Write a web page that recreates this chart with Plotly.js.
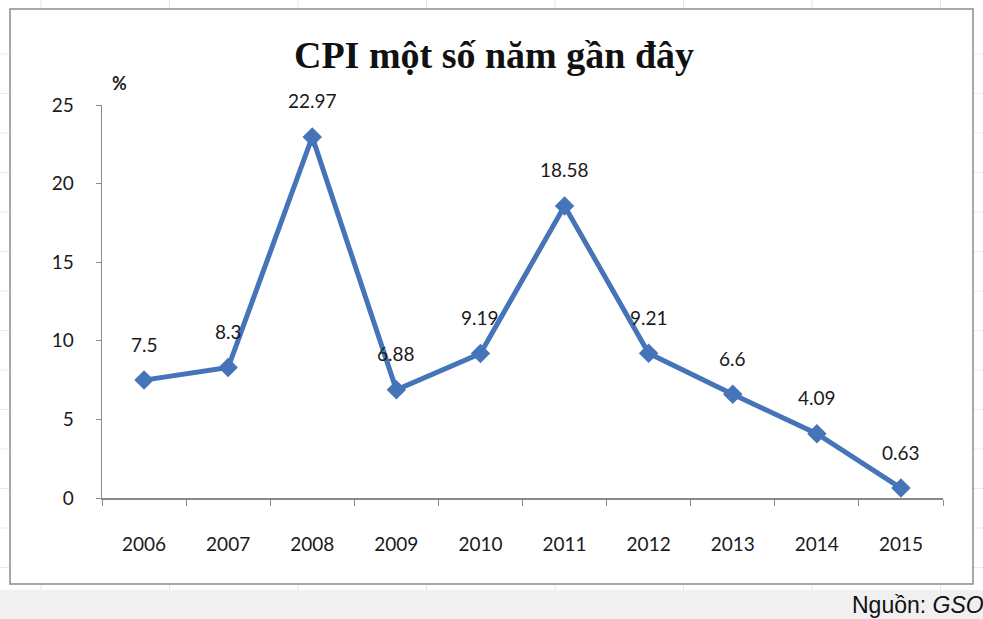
<!DOCTYPE html>
<html>
<head>
<meta charset="utf-8">
<script src="https://cdn.plot.ly/plotly-3.0.1.min.js"></script>
<style>html,body{margin:0;padding:0;background:#fff;}#chart{width:983px;height:619px;}</style>
</head>
<body>
<div id="chart"></div>
<script>
// Data
var years = ["2006","2007","2008","2009","2010","2011","2012","2013","2014","2015"];
var cpi = [7.5, 8.3, 22.97, 6.88, 9.19, 18.58, 9.21, 6.6, 4.09, 0.63];
var cpiLabels = ["7.5","8.3","22.97","6.88","9.19","18.58","9.21","6.6","4.09","0.63"];
var yTicks = [0, 5, 10, 15, 20, 25];

// Layout geometry (pixels)
var W = 983, H = 619;
var L = 102, R = 40, T = 105, B = 121;
var pw = W - L - R, ph = H - T - B;
function px(x){ return (x - L) / pw; }
function py(y){ return (H - B - y) / ph; }

var shapes = [];
// faint spreadsheet gridlines in the background
for (var gx = 41; gx < W; gx += 128.5) {
  shapes.push({type:'line', xref:'paper', yref:'paper', x0:px(gx), x1:px(gx), y0:py(0), y1:py(590), line:{color:'#e6e6e6', width:1}, layer:'below'});
}
for (var gy = 54; gy < 590; gy += 39.5) {
  shapes.push({type:'line', xref:'paper', yref:'paper', x0:px(0), x1:px(W), y0:py(gy), y1:py(gy), line:{color:'#ebebeb', width:1}, layer:'below'});
}
// chart box
shapes.push({type:'rect', xref:'paper', yref:'paper', x0:px(10), x1:px(973), y0:py(584), y1:py(9), line:{color:'#8c8c8c', width:1.5}, fillcolor:'#ffffff', layer:'below'});
// grey source strip
shapes.push({type:'rect', xref:'paper', yref:'paper', x0:px(0), x1:px(W), y0:py(H+2), y1:py(590), line:{width:0}, fillcolor:'#f0f0f0', layer:'below'});

var annotations = [];
for (var i = 0; i < years.length; i++) {
  annotations.push({x: i, y: cpi[i], xref:'x', yref:'y', text: cpiLabels[i], showarrow:false,
    yshift: 36, font:{family:'Lato, sans-serif', size:19, color:'#1a1a1a'}});
}
annotations.push({xref:'paper', yref:'paper', x:px(110), y:py(70), text:'<b>%</b>', showarrow:false,
  font:{family:'Lato, sans-serif', size:18, color:'#222'}});
annotations.push({xref:'paper', yref:'paper', x:px(986), y:py(605), xanchor:'right', yanchor:'middle',
  text:'Nguồn: <i>GSO</i>', showarrow:false, font:{family:'Liberation Sans, Arial, sans-serif', size:23, color:'#111'}});

var trace = {
  x: years, y: cpi, type:'scatter', mode:'lines+markers',
  line:{color:'#4674b9', width:5},
  marker:{symbol:'diamond', size:15, color:'#4674b9'},
  hoverinfo:'x+y'
};

var layout = {
  width: W, height: H,
  margin:{l:L, r:R, t:T, b:B, pad:0},
  paper_bgcolor:'rgba(0,0,0,0)', plot_bgcolor:'rgba(0,0,0,0)',
  showlegend:false,
  title:{text:'<b>CPI một số năm gần đây</b>', xref:'container', x:494/W, xanchor:'center', yref:'container', y:1 - 55/H, yanchor:'middle',
    font:{family:'Liberation Serif, serif', size:38, color:'#111'}},
  xaxis:{type:'category', range:[-0.5, 9.5], showline:true, linecolor:'#8a8a8a', linewidth:1.5,
    ticks:'outside', tickson:'boundaries', ticklen:6, tickcolor:'#8a8a8a', tickwidth:1,
    showgrid:false, zeroline:false, ticklabelstandoff:29,
    tickfont:{family:'Lato, sans-serif', size:19, color:'#1a1a1a'}},
  yaxis:{range:[0, 25], tickvals:yTicks, showline:true, linecolor:'#8a8a8a', linewidth:1.5,
    ticks:'outside', ticklen:5, tickcolor:'#8a8a8a', tickwidth:1, showgrid:false, zeroline:false,
    ticklabelstandoff:18, tickfont:{family:'Lato, sans-serif', size:19, color:'#1a1a1a'}},
  shapes: shapes,
  annotations: annotations
};

Plotly.newPlot('chart', [trace], layout, {displayModeBar:false, staticPlot:true});
</script>
</body>
</html>
